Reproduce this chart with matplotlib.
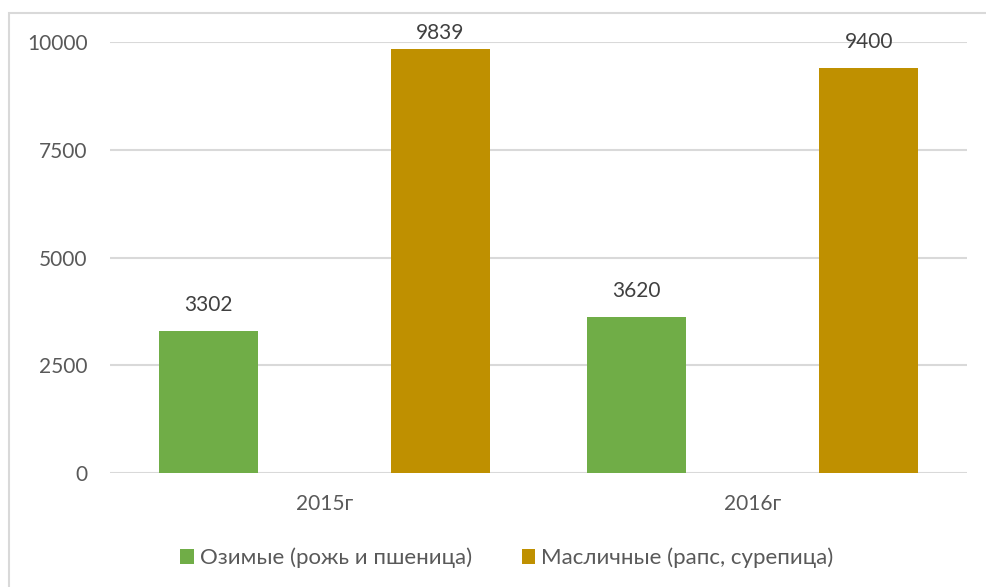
import matplotlib.pyplot as plt
import matplotlib.patches as mpatches
import numpy as np

# Данные
years = ["2015г", "2016г"]
ozimye = [3302, 3620]
maslichnye = [9839, 9400]
series_names = ["Озимые (рожь и пшеница)", "Масличные (рапс, сурепица)"]
y_ticks = [0, 2500, 5000, 7500, 10000]

plt.rcParams['font.family'] = ['Lato', 'DejaVu Sans']
text_color = "#595959"
grid_color = "#D9D9D9"
green = "#70AD47"
gold = "#BF9000"

fig = plt.figure(figsize=(9.86, 5.87), dpi=100)
ax = fig.add_axes([110 / 986, 114 / 587, 857 / 986, 431 / 587])

# рамка диаграммы (видны только верх и левая сторона)
fig.patches.append(mpatches.Rectangle((9 / 986, -0.1), 1.2, 1 - 13 / 587 + 0.1,
                                      transform=fig.transFigure, fill=False,
                                      edgecolor=grid_color, linewidth=1.5))

x = np.arange(len(years))
w = 0.231
off = 0.271
b1 = ax.bar(x - off, ozimye, w, color=green, label=series_names[0], zorder=3)
b2 = ax.bar(x + off, maslichnye, w, color=gold, label=series_names[1], zorder=3)

# подписи: центр ~25 px над столбцом, но не выше края диаграммы (как в Excel)
px = 10000 / 431
top_lim = 440 * px
for bars in (b1, b2):
    for r in bars:
        h = r.get_height()
        ax.text(r.get_x() + r.get_width() / 2, min(h + 25.5 * px, top_lim), f"{int(h)}",
                ha="center", va="center", fontsize=15, color="#404040", clip_on=False)

ax.set_xlim(-0.5, 1.5)
ax.set_ylim(0, 10000)
ax.set_yticks(y_ticks)
ax.set_xticks(x)
ax.set_xticklabels(years)
ax.tick_params(axis="both", length=0, labelsize=15, labelcolor=text_color)
ax.tick_params(axis="y", pad=16)
ax.tick_params(axis="x", pad=15)
ax.yaxis.grid(True, color=grid_color, linewidth=1.5, zorder=0)
for s in ax.spines.values():
    s.set_visible(False)

fig.legend(handles=[b1, b2], loc="center", bbox_to_anchor=(507 / 986, 1 - 558 / 587), ncol=2,
           frameon=False, fontsize=16, labelcolor=text_color, handlelength=0.6,
           handleheight=0.6, handletextpad=0.28, columnspacing=2.25)

fig.savefig("out.png", dpi=100)
